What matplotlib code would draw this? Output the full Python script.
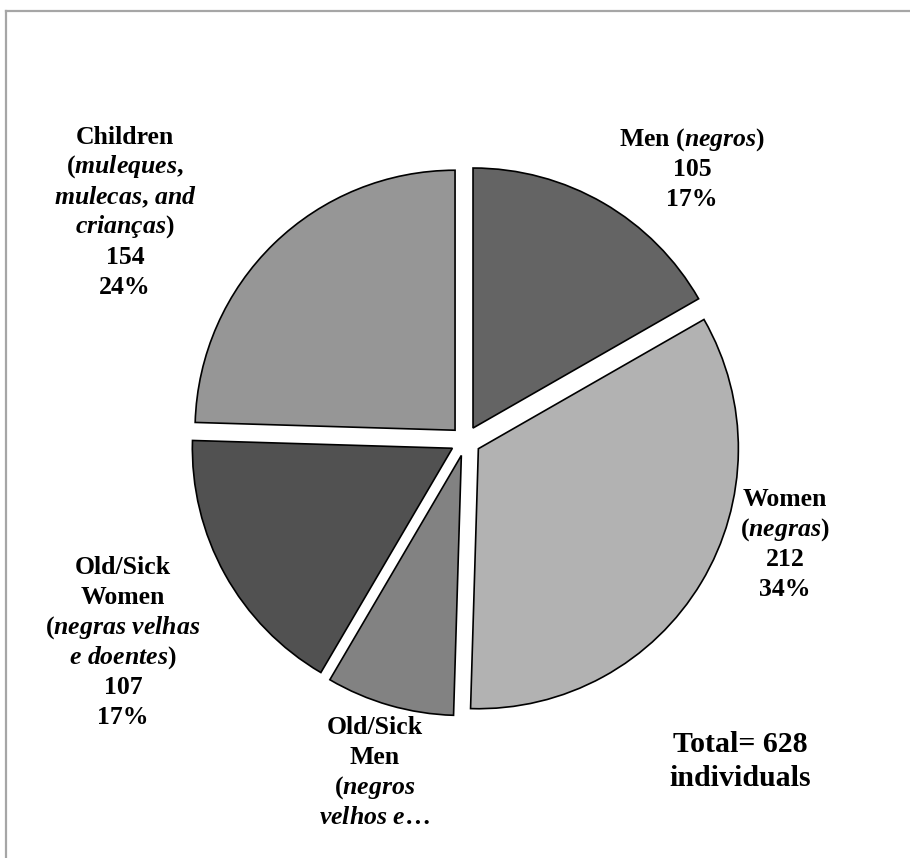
import matplotlib
matplotlib.use("Agg")
import matplotlib.pyplot as plt
from matplotlib.lines import Line2D

# ---------------- data ----------------
categories = ["Men", "Women", "Old/Sick Men", "Old/Sick Women", "Children"]
values = [105, 212, 50, 107, 154]
percents = [17, 34, 8, 17, 24]
colors = ["#646464", "#b2b2b2", "#828282", "#515151", "#969696"]
label_heads = [
    [r"Men ($\mathit{negros}$)"],
    ["Women", r"($\mathit{negras}$)"],
    ["Old/Sick", "Men", r"($\mathit{negros}$", r"$\mathit{velhos\ e…}$"],
    ["Old/Sick", "Women", r"($\mathit{negras\ velhas}$", r"$\mathit{e\ doentes}$)"],
    ["Children", r"($\mathit{muleques{,}}$", r"$\mathit{mulecas{,}\ and}$", r"$\mathit{crianças}$)"],
]
show_numbers = [True, True, False, True, True]
total_text = ["Total= 628", "individuals"]

# ---------------- style ----------------
plt.rcParams["font.family"] = ["Liberation Serif", "DejaVu Serif"]
plt.rcParams["font.weight"] = "bold"
plt.rcParams["mathtext.fontset"] = "custom"
plt.rcParams["mathtext.rm"] = "Liberation Serif:bold"
plt.rcParams["mathtext.it"] = "Liberation Serif:italic:bold"
plt.rcParams["mathtext.bf"] = "Liberation Serif:bold"

W, H = 910, 858
fig = plt.figure(figsize=(W / 100, H / 100), dpi=100)

pax = fig.add_axes([0, 0, 1, 1])
pax.set_xlim(0, W)
pax.set_ylim(0, H)
pax.set_aspect("equal")
pax.axis("off")
cx, cy, R = 465.5, H - 441, 260
pax.pie(values, colors=colors, startangle=90, counterclock=False,
        radius=R, center=(cx, cy), explode=[15] * len(values),
        wedgeprops=dict(edgecolor="black", linewidth=1.2), frame=False)
pax.set_xlim(0, W)
pax.set_ylim(0, H)

ax = fig.add_axes([0, 0, 1, 1])
ax.set_xlim(0, W)
ax.set_ylim(H, 0)
ax.axis("off")

# border (left and top visible)
fig.add_artist(Line2D([6 / W, 6 / W], [0, 1 - 11 / H], color="#a6a6a6", lw=1.6,
                      transform=fig.transFigure))
fig.add_artist(Line2D([6 / W, 1], [1 - 11 / H, 1 - 11 / H], color="#a6a6a6", lw=1.6,
                      transform=fig.transFigure))

label_pos = [(692, 140), (785, 500), (375, 728), (123, 568), (125, 137)]
spacing = 30
fs = 18.5
for heads, v, p, show, (x, y) in zip(label_heads, values, percents, show_numbers, label_pos):
    lines = list(heads)
    if show:
        lines += [str(v), f"{p}%"]
    for i, t in enumerate(lines):
        ax.text(x, y + i * spacing, t, ha="center", va="center", fontsize=fs,
                fontweight="bold")

for i, t in enumerate(total_text):
    ax.text(740, 745 + i * 33, t, ha="center", va="center", fontsize=21.5,
            fontweight="bold")

fig.savefig("out.png", dpi=100)
